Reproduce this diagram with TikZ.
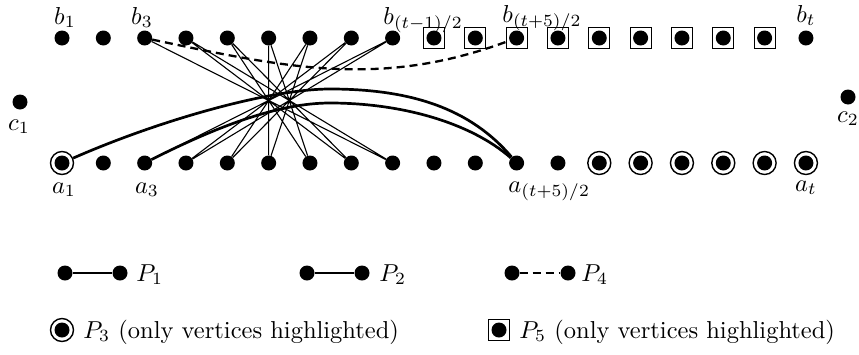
\documentclass[tikz,border=0pt]{standalone}
\begin{document}
\begin{tikzpicture}[x=1pt,y=-1pt,
  vtx/.style={circle,fill=black,inner sep=0pt,minimum size=15pt},
  ringv/.style={circle,draw=black,line width=1.4pt,inner sep=0pt,minimum size=23pt,
    path picture={\fill[black] (path picture bounding box.center) circle (7.5pt);}},
  boxv/.style={rectangle,draw=black,line width=1.2pt,inner sep=0pt,minimum size=21pt,
    path picture={\fill[black] (path picture bounding box.center) circle (7.5pt);}},
  pone/.style={line width=1.1pt},
  ptwo/.style={line width=2.7pt},
  pfour/.style={line width=2.3pt,dash pattern=on 8pt off 5pt},
  lbl/.style={inner sep=0pt,scale=2.45}]
\useasboundingbox (0,0) rectangle (859,354);
% top row
\foreach \i in {1,...,9,19} \node[vtx] (b\i) at ({62+41.33*(\i-1)},38) {};
\foreach \i in {10,...,18} \node[boxv] (b\i) at ({62+41.33*(\i-1)},38) {};
% bottom row
\foreach \i in {2,...,13} \node[vtx] (a\i) at ({62+41.33*(\i-1)},163) {};
\foreach \i in {1,14,15,16,17,18,19} \node[ringv] (a\i) at ({62+41.33*(\i-1)},163) {};
% side vertices
\node[vtx] (c1) at (20,102) {};
\node[vtx] (c2) at (848,97) {};
% labels
\node[lbl,anchor=base] (lb1) at (65,24) {$b_1$};
\node[lbl,anchor=base] (lb3) at (142,24) {$b_3$};
\node[lbl,anchor=base west] (lb9) at (383,24) {$b_{(t-1)/2}$};
\node[lbl,anchor=base west] (lb12) at (502,22) {$b_{(t+5)/2}$};
\node[lbl,anchor=base] (lbt) at (806,22) {$b_t$};
\node[lbl,anchor=base] (la1) at (64,193) {$a_1$};
\node[lbl,anchor=base] (la3) at (147,193) {$a_3$};
\node[lbl,anchor=base west] (la12) at (508,192) {$a_{(t+5)/2}$};
\node[lbl,anchor=base] (lat) at (806,191) {$a_t$};
\node[lbl,anchor=base] (lc1) at (19,130) {$c_1$};
\node[lbl,anchor=base] (lc2) at (848,122) {$c_2$};
% P1 (thin)
\draw[pone] (b3)--(a9)--(b4)--(a8)--(b5)--(a7)--(b6)--(a6)--(b7)--(a5)--(b8)--(a4)--(b9)--(a3);
% P2 (thick)
\coordinate (pk1) at (330,89);
\coordinate (pk2) at (330,103);
\draw[ptwo] (a1) .. controls (160,120) and (270,89) .. (pk1)
                 .. controls (410,89) and (470,108) .. (a12);
\draw[ptwo] (a3) .. controls (220,125) and (280,103) .. (pk2)
                 .. controls (400,103) and (470,122) .. (a12);
% P4 (dashed)
\draw[pfour] (b3) .. controls (287,68) and (380,88) .. (b12);
% legend
\node[vtx] (l1a) at (65,273) {};
\node[vtx] (l1b) at (120,273) {};
\draw[pone] (l1a)--(l1b);
\node[lbl,anchor=base west] (lp1) at (136,281) {$P_1$};
\node[vtx] (l2a) at (307,273) {};
\node[vtx] (l2b) at (362,273) {};
\draw[ptwo] (l2a)--(l2b);
\node[lbl,anchor=base west] (lp2) at (379,281) {$P_2$};
\node[vtx] (l4a) at (512,273) {};
\node[vtx] (l4b) at (568,273) {};
\draw[pfour] (l4a)--(l4b);
\node[lbl,anchor=base west] (lp4) at (581,281) {$P_4$};
\node[ringv] (l3) at (62,330) {};
\node[lbl,anchor=base west] (lp3) at (83,338) {$P_3$ (only vertices highlighted)};
\node[boxv] (l5) at (499,330) {};
\node[lbl,anchor=base west] (lp5) at (519,338) {$P_5$ (only vertices highlighted)};
\end{tikzpicture}
\end{document}
